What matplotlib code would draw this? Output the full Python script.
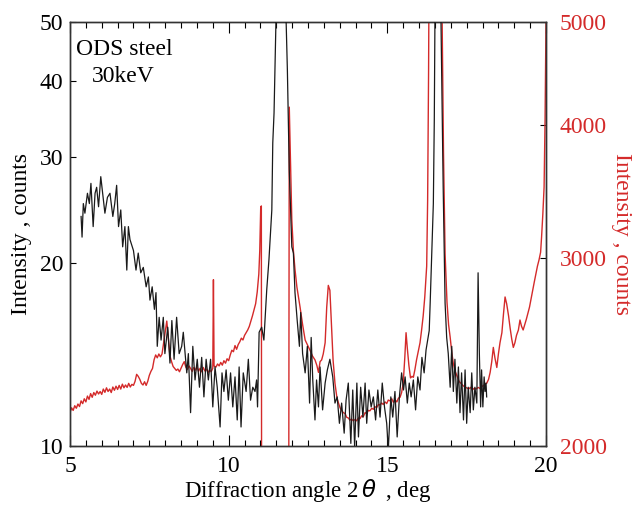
import numpy as np
import matplotlib
matplotlib.use('Agg')
import matplotlib.pyplot as plt
from matplotlib.ticker import FixedLocator, NullLocator, MultipleLocator, NullFormatter

plt.rcParams['font.family'] = ['Liberation Serif', 'DejaVu Serif']
plt.rcParams['mathtext.fontset'] = 'dejavusans'

# left axis (black): intensity, counts
black_angle = [5.35, 5.38, 5.42, 5.47, 5.55, 5.61, 5.66, 5.73, 5.79, 5.84, 5.90, 5.97,
               6.03, 6.10, 6.18, 6.26, 6.35, 6.41, 6.47, 6.53, 6.60, 6.66, 6.73, 6.79,
               6.84, 6.89, 7.00, 7.08, 7.15, 7.23, 7.31, 7.40, 7.47, 7.52, 7.59, 7.66,
               7.71, 7.75, 7.81, 7.87, 7.94, 7.99, 8.08, 8.15, 8.21, 8.28, 8.36, 8.44,
               8.52, 8.57, 8.68, 8.73, 8.80, 8.87, 8.94, 9.01, 9.08, 9.15, 9.22, 9.29,
               9.36, 9.43, 9.50, 9.57, 9.64, 9.73, 9.79, 9.85, 9.92, 9.99, 10.06, 10.13,
               10.20, 10.27, 10.33, 10.39, 10.46, 10.55, 10.62, 10.69, 10.76, 10.83, 10.88, 10.91,
               10.96, 11.04, 11.11, 11.20, 11.27, 11.36, 11.39, 11.43, 11.49, 11.55, 11.68, 11.81,
               11.85, 11.91, 11.99, 12.04, 12.09, 12.16, 12.23, 12.27, 12.33, 12.41, 12.48, 12.55,
               12.60, 12.65, 12.72, 12.77, 12.83, 12.88, 12.96, 13.04, 13.11, 13.19, 13.28, 13.35,
               13.42, 13.49, 13.56, 13.64, 13.70, 13.77, 13.85, 13.91, 13.97, 14.04, 14.09, 14.16,
               14.23, 14.30, 14.35, 14.42, 14.49, 14.56, 14.63, 14.70, 14.77, 14.84, 14.91, 14.98,
               15.03, 15.11, 15.17, 15.24, 15.31, 15.38, 15.45, 15.51, 15.56, 15.63, 15.69, 15.75,
               15.82, 15.89, 15.96, 16.03, 16.09, 16.16, 16.22, 16.27, 16.32, 16.35, 16.40, 16.45,
               16.48, 16.50, 16.60, 16.69, 16.76, 16.82, 16.87, 16.92, 16.98, 17.03, 17.08, 17.13,
               17.19, 17.24, 17.29, 17.34, 17.40, 17.45, 17.50, 17.55, 17.61, 17.66, 17.71, 17.76,
               17.82, 17.86, 17.90, 17.94, 17.97, 18.01, 18.05, 18.08, 18.11, 18.13]
black_counts = [23.9, 22.1, 25.1, 24.2, 26.1, 25.1, 27.1, 23.0, 26.1, 26.7, 24.8, 27.8,
                26.1, 24.2, 25.7, 26.1, 23.9, 25.1, 26.9, 23.0, 24.5, 21.3, 23.0, 19.5,
                23.0, 21.9, 21.0, 19.5, 20.8, 19.3, 19.7, 18.3, 19.0, 17.4, 18.3, 16.8,
                17.9, 14.6, 16.3, 14.95, 16.3, 14.2, 15.7, 13.7, 16.1, 13.9, 16.3, 14.2,
                14.6, 15.4, 13.2, 14.2, 11.35, 14.6, 12.85, 13.9, 12.5, 14.0, 12.05, 13.9,
                12.85, 13.9, 11.6, 13.5, 12.5, 10.75, 13.2, 12.3, 13.35, 11.9, 13.2, 11.6,
                13.0, 11.04, 13.5, 10.75, 13.2, 12.3, 13.9, 11.9, 12.5, 12.3, 12.85, 11.6,
                15.4, 15.7, 14.95, 18.1, 20.3, 24.5, 31.6, 35.4, 50.3, 70.0, 90.0, 50.5,
                41.7, 28.5, 21.3, 20.8, 17.9, 16.1, 14.6, 16.6, 14.2, 13.2, 14.6, 11.77,
                15.1, 12.85, 11.04, 12.85, 11.6, 13.5, 11.47, 12.7, 13.35, 13.9, 13.0, 11.77,
                12.05, 10.9, 11.77, 10.5, 11.9, 12.7, 10.1, 12.37, 9.96, 12.7, 10.35, 12.5,
                11.16, 12.7, 10.9, 12.37, 11.6, 12.05, 11.04, 12.37, 11.16, 12.7, 11.6, 10.9,
                9.85, 12.05, 11.16, 12.3, 10.35, 12.05, 13.2, 12.37, 13.0, 11.77, 12.7, 12.05,
                12.85, 11.47, 13.0, 12.37, 14.0, 13.2, 14.4, 14.95, 15.5, 17.2, 20.8, 25.1,
                34.5, 50.3, 80.0, 50.5, 26.7, 17.2, 15.1, 14.2, 12.5, 14.6, 12.3, 13.9,
                11.77, 13.5, 11.35, 13.2, 11.04, 13.35, 10.9, 12.5, 11.35, 13.2, 11.47, 12.5,
                11.77, 19.3, 14.2, 11.6, 13.35, 11.6, 13.0, 12.3, 12.7, 12.05]

# right axis (red): intensity, counts
red_angle = [5.00, 5.05, 5.10, 5.15, 5.20, 5.25, 5.30, 5.35, 5.40, 5.45, 5.50, 5.55,
             5.60, 5.65, 5.70, 5.75, 5.80, 5.85, 5.90, 5.95, 6.00, 6.05, 6.10, 6.15,
             6.20, 6.25, 6.30, 6.35, 6.40, 6.45, 6.50, 6.55, 6.60, 6.65, 6.70, 6.75,
             6.80, 6.85, 6.90, 6.95, 7.00, 7.05, 7.10, 7.15, 7.20, 7.25, 7.30, 7.35,
             7.40, 7.45, 7.50, 7.55, 7.60, 7.65, 7.70, 7.75, 7.80, 7.85, 7.90, 7.95,
             8.00, 8.05, 8.10, 8.15, 8.20, 8.25, 8.30, 8.35, 8.40, 8.45, 8.50, 8.55,
             8.60, 8.65, 8.70, 8.75, 8.80, 8.85, 8.90, 8.95, 9.00, 9.05, 9.10, 9.15,
             9.20, 9.25, 9.30, 9.35, 9.40, 9.45, 9.50, 9.52, 9.54, 9.60, 9.65, 9.70,
             9.75, 9.80, 9.85, 9.90, 9.95, 10.00, 10.05, 10.10, 10.15, 10.20, 10.25, 10.30,
             10.35, 10.40, 10.45, 10.50, 10.55, 10.60, 10.65, 10.70, 10.75, 10.80, 10.85, 10.90,
             10.95, 10.98, 11.01, 11.03, 11.04, 11.89, 11.91, 11.95, 11.99, 12.04, 12.09, 12.15,
             12.25, 12.33, 12.41, 12.48, 12.56, 12.64, 12.72, 12.78, 12.83, 12.88, 12.93, 12.98,
             13.04, 13.09, 13.14, 13.19, 13.24, 13.29, 13.35, 13.41, 13.46, 13.51, 13.56, 13.61,
             13.67, 13.72, 13.77, 13.82, 13.87, 13.93, 13.98, 14.03, 14.09, 14.14, 14.19, 14.24,
             14.30, 14.35, 14.40, 14.45, 14.51, 14.56, 14.61, 14.66, 14.72, 14.77, 14.82, 14.87,
             14.93, 14.98, 15.03, 15.08, 15.14, 15.19, 15.24, 15.30, 15.35, 15.40, 15.45, 15.50,
             15.55, 15.59, 15.63, 15.68, 15.73, 15.78, 15.82, 15.87, 15.92, 15.97, 16.03, 16.08,
             16.13, 16.18, 16.24, 16.27, 16.30, 16.32, 16.70, 16.74, 16.77, 16.82, 16.88, 16.93,
             16.98, 17.03, 17.08, 17.14, 17.20, 17.26, 17.32, 17.38, 17.44, 17.50, 17.56, 17.62,
             17.68, 17.74, 17.80, 17.86, 17.92, 17.98, 18.04, 18.09, 18.13, 18.19, 18.24, 18.29,
             18.34, 18.39, 18.45, 18.50, 18.55, 18.61, 18.66, 18.71, 18.76, 18.82, 18.87, 18.92,
             18.97, 19.02, 19.07, 19.13, 19.18, 19.23, 19.28, 19.33, 19.38, 19.43, 19.48, 19.53,
             19.58, 19.63, 19.68, 19.73, 19.78, 19.83, 19.86, 19.90, 19.94, 19.97, 20.00]
red_counts = [2150, 2172, 2160, 2182, 2170, 2190, 2178, 2205, 2192, 2215, 2200, 2228,
              2212, 2240, 2222, 2245, 2232, 2252, 2238, 2250, 2236, 2262, 2246, 2268,
              2250, 2262, 2245, 2272, 2256, 2276, 2260, 2280, 2262, 2286, 2268, 2282,
              2270, 2290, 2272, 2285, 2280, 2300, 2335, 2325, 2310, 2290, 2282, 2298,
              2280, 2300, 2330, 2350, 2365, 2410, 2435, 2420, 2440, 2425, 2440, 2500,
              2560, 2620, 2520, 2430, 2400, 2375, 2365, 2355, 2362, 2348, 2366, 2385,
              2400, 2372, 2360, 2378, 2365, 2350, 2370, 2356, 2374, 2350, 2366, 2348,
              2370, 2352, 2362, 2344, 2358, 2348, 2366, 2865, 2378, 2372, 2388, 2378,
              2396, 2382, 2405, 2392, 2415, 2405, 2435, 2460, 2452, 2485, 2465, 2490,
              2505, 2525, 2515, 2540, 2555, 2570, 2590, 2620, 2650, 2685, 2720, 2790,
              2900, 3050, 3350, 3360, 1500, 1500, 4160, 3700, 3260, 3050, 2930, 2820,
              2700, 2600, 2515, 2490, 2461, 2430, 2409, 2380, 2345, 2400, 2409, 2440,
              2500, 2700, 2830, 2800, 2600, 2409, 2290, 2222, 2195, 2172, 2160, 2150,
              2145, 2128, 2125, 2115, 2120, 2112, 2118, 2112, 2125, 2122, 2135, 2130,
              2150, 2145, 2160, 2158, 2170, 2165, 2178, 2172, 2188, 2185, 2195, 2188,
              2200, 2192, 2209, 2205, 2215, 2198, 2210, 2200, 2218, 2222, 2245, 2290,
              2420, 2555, 2470, 2380, 2317, 2325, 2320, 2360, 2409, 2450, 2500, 2570,
              2650, 2760, 2950, 3400, 4500, 6000, 6000, 4600, 3770, 3030, 2730, 2600,
              2530, 2450, 2390, 2350, 2325, 2300, 2290, 2280, 2272, 2268, 2262, 2270,
              2258, 2266, 2262, 2270, 2265, 2275, 2280, 2288, 2290, 2310, 2345, 2400,
              2475, 2420, 2370, 2440, 2500, 2555, 2660, 2760, 2720, 2650, 2580, 2520,
              2475, 2500, 2540, 2570, 2626, 2590, 2570, 2600, 2630, 2665, 2700, 2750,
              2800, 2850, 2900, 2950, 2990, 3040, 3140, 3300, 3500, 4040, 5000]

fig = plt.figure(figsize=(6.34, 5.05), dpi=100)
ax = fig.add_axes([0.1104, 0.1168, 0.7508, 0.8396])
ax2 = ax.twinx()

red = '#d42a2a'
ax.plot(black_angle, black_counts, color='#1a1a1a', lw=0.9, zorder=3)
ax2.plot(red_angle, red_counts, color=red, lw=1.0)
ax.set_zorder(ax2.get_zorder() + 1)
ax.patch.set_visible(False)

ax.set_xlim(5, 20)
ax.set_yscale('log')
ax.set_ylim(10, 50)
ax.yaxis.set_major_locator(FixedLocator([10, 20, 30, 40, 50]))
ax.yaxis.set_major_formatter(plt.FuncFormatter(lambda v, p: '%d' % v))
ax.yaxis.set_minor_locator(NullLocator())
ax.yaxis.set_minor_formatter(NullFormatter())

ax2.set_yscale('log')
ax2.set_ylim(2000, 5000)
ax2.yaxis.set_major_locator(FixedLocator([2000, 3000, 4000, 5000]))
ax2.yaxis.set_major_formatter(plt.FuncFormatter(lambda v, p: '%d' % v))
ax2.yaxis.set_minor_locator(NullLocator())
ax2.yaxis.set_minor_formatter(NullFormatter())

ax.xaxis.set_major_locator(MultipleLocator(5))
ax.xaxis.set_minor_locator(MultipleLocator(0.5))
ax.tick_params(axis='x', which='major', direction='in', length=8, width=0.8,
               top=True, labelsize=17, pad=7)
ax.tick_params(axis='x', which='minor', direction='in', length=4, width=0.8, top=True)
ax.tick_params(axis='y', which='major', direction='in', length=4, width=0.8,
               labelsize=17, pad=5)
ax2.tick_params(axis='y', which='major', direction='in', length=4, width=0.8,
                labelsize=17, labelcolor=red, pad=10)

for a in (ax, ax2):
    for s in a.spines.values():
        s.set_color('#333333')
        s.set_linewidth(1.0)

ax.set_xlabel(r'Diffraction angle 2$\,\theta\,$ , deg', fontsize=16.5, labelpad=0)
ax.set_ylabel('Intensity , counts', fontsize=17, labelpad=5)
ax2.set_ylabel('Intensity , counts', fontsize=17, color=red, rotation=270, labelpad=18)

ax.text(0.013, 0.922, 'ODS steel', transform=ax.transAxes, fontsize=17)
ax.text(0.047, 0.858, '30keV', transform=ax.transAxes, fontsize=17)

fig.savefig('out.png', dpi=100)
